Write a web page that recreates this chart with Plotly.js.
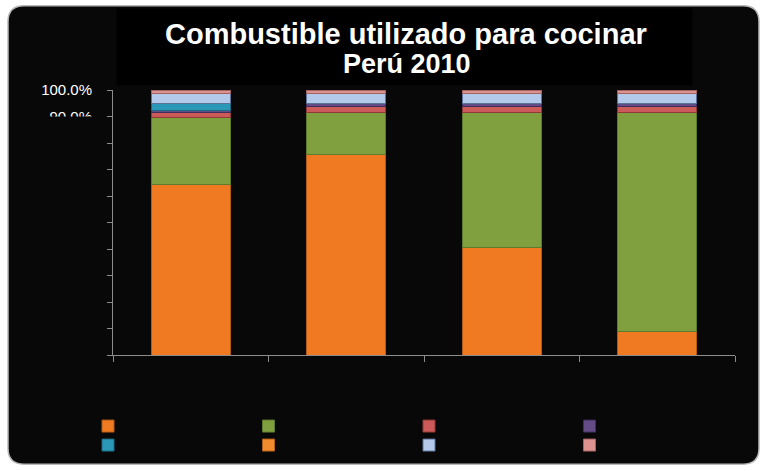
<!DOCTYPE html>
<html>
<head>
<meta charset="utf-8">
<script src="https://cdn.plot.ly/plotly-3.0.1.min.js"></script>
<style>html,body{margin:0;padding:0;background:#fff;}#chart{width:763px;height:471px;}</style>
</head>
<body>
<div id="chart"></div>
<script>
// ---- data (percent of households) ----
const categories = ["Perú", "Costa", "Sierra", "Selva"];
const seriesNames = ["Gas (GLP)", "Leña", "Kerosene", "Carbón", "Bosta, estiércol", "Electricidad", "Otro", "No cocinan"];
const gas          = [64.4, 75.6, 40.6, 9.0];
const lena         = [25.4, 16.1, 51.1, 82.7];
const kerosene     = [1.9, 2.2, 2.2, 2.2];
const carbon       = [0.7, 1.1, 1.1, 1.1];
const bosta        = [2.6, 0.0, 0.0, 0.0];
const electricidad = [0.0, 0.0, 0.0, 0.0];
const otro         = [3.7, 3.7, 3.7, 3.7];
const noCocinan    = [1.3, 1.3, 1.3, 1.3];
const yTickVals  = [0, 10, 20, 30, 40, 50, 60, 70, 80, 90, 100];
const yTickText  = ["", "", "", "", "", "", "", "", "", "90.0%", "100.0%"];
const titleLine1 = "Combustible utilizado para cocinar";
const titleLine2 = "Perú 2010";

const seriesValues = [gas, lena, kerosene, carbon, bosta, electricidad, otro, noCocinan];
const colors = ["#F07A22", "#80A040", "#CC5A58", "#634C85", "#2C98B8", "#F28B2E", "#B4CAEA", "#DE9290"];
const edge = ["#B05A18", "#5E7A2C", "#8E3A38", "#3F2E5C", "#1B6A82", "#B06018", "#5E7298", "#A26462"];

// ---- pixel layout helpers ----
const W = 763, H = 471;
const PL = 113, PR = 735, PT = 90, PB = 357;
const px2x = p => (p - PL) / (PR - PL);
const px2y = p => (PB - p) / (PB - PT);

function roundRect(x0, y0, x1, y1, r) {
  const X = px2x, Y = px2y;
  return `M${X(x0 + r)},${Y(y0)} L${X(x1 - r)},${Y(y0)} Q${X(x1)},${Y(y0)} ${X(x1)},${Y(y0 + r)} ` +
         `L${X(x1)},${Y(y1 - r)} Q${X(x1)},${Y(y1)} ${X(x1 - r)},${Y(y1)} ` +
         `L${X(x0 + r)},${Y(y1)} Q${X(x0)},${Y(y1)} ${X(x0)},${Y(y1 - r)} ` +
         `L${X(x0)},${Y(y0 + r)} Q${X(x0)},${Y(y0)} ${X(x0 + r)},${Y(y0)} Z`;
}

const traces = seriesValues.map((vals, i) => ({
  type: "bar",
  name: seriesNames[i],
  x: categories,
  y: vals,
  marker: { color: colors[i], line: { color: edge[i], width: 1 } },
  hoverinfo: "name+y"
}));

const titleFont1 = { family: "Liberation Sans, Arial, sans-serif", size: 29, color: "#ffffff" };
const titleFont2 = { family: "Liberation Sans, Arial, sans-serif", size: 27, color: "#ffffff" };

const layout = {
  width: W, height: H,
  paper_bgcolor: "#ffffff",
  plot_bgcolor: "rgba(0,0,0,0)",
  margin: { l: PL, r: W - PR, t: PT, b: H - PB, pad: 0 },
  barmode: "stack",
  barnorm: "percent",
  bargap: 0.49,
  font: { family: "Liberation Sans, Arial, sans-serif", color: "#ffffff" },
  showlegend: true,
  legend: {
    orientation: "h",
    x: px2x(88), xanchor: "left",
    y: px2y(414), yanchor: "top",
    entrywidth: 115.5, entrywidthmode: "pixels",
    font: { size: 12, color: "#090909" },
    bgcolor: "rgba(0,0,0,0)",
    traceorder: "normal"
  },
  xaxis: {
    type: "category",
    range: [-0.5, 3.5],
    showgrid: false, zeroline: false,
    showline: true, linecolor: "#8c8c8c", linewidth: 1,
    ticks: "outside", tickson: "boundaries", ticklen: 6, tickcolor: "#8c8c8c",
    tickfont: { color: "#090909", size: 12 },
    fixedrange: true
  },
  yaxis: {
    range: [0, 100],
    showgrid: false, zeroline: false,
    showline: true, linecolor: "#8c8c8c", linewidth: 1,
    ticks: "outside", ticklen: 5, tickcolor: "#8c8c8c",
    tickmode: "array", tickvals: yTickVals, ticktext: yTickText,
    tickfont: { color: "#ffffff", size: 15 },
    ticklabelstandoff: 12,
    fixedrange: true
  },
  shapes: [
    { type: "path", xref: "paper", yref: "paper", layer: "below",
      path: roundRect(8, 5, 759, 467, 16),
      fillcolor: "#080808", line: { color: "#b8b8b8", width: 1.5 } }
  ],
  annotations: [
    // plot-area panel edge that hides the lower part of the 90% label
    { xref: "paper", yref: "paper", x: px2x(104), y: px2y(116.5), xanchor: "right", yanchor: "top",
      text: " ", showarrow: false, width: 80, height: 236, bgcolor: "#080808", borderpad: 0 },
    // title box
    { xref: "paper", yref: "paper", x: px2x(404.5), y: px2y(47), xanchor: "center", yanchor: "middle",
      text: " ", showarrow: false,
      width: 575, height: 76, bgcolor: "#000000", borderpad: 0 },
    { xref: "paper", yref: "paper", x: px2x(406), y: px2y(34), xanchor: "center", yanchor: "middle",
      text: "<b>" + titleLine1 + "</b>", showarrow: false, font: titleFont1 },
    { xref: "paper", yref: "paper", x: px2x(407), y: px2y(64), xanchor: "center", yanchor: "middle",
      text: "<b>" + titleLine2 + "</b>", showarrow: false, font: titleFont2 }
  ]
};

Plotly.newPlot("chart", traces, layout, { displayModeBar: false, staticPlot: true });
</script>
</body>
</html>
